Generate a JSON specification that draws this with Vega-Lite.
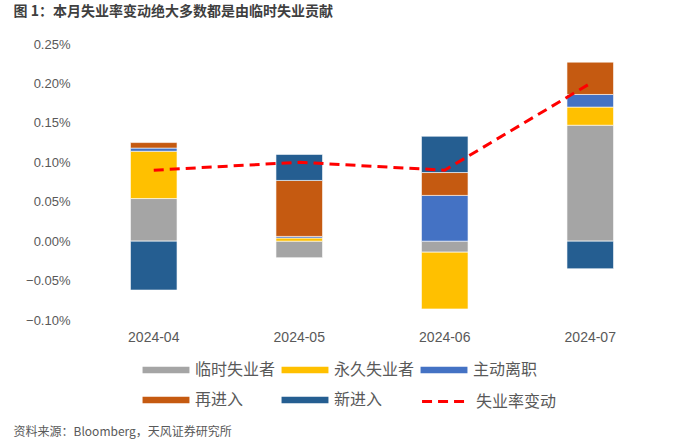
{
  "$schema": "https://vega.github.io/schema/vega-lite/v6.json",
  "padding": {"left": 13, "top": 5, "right": 5, "bottom": 5},
  "background": "white",
  "title": {"text": "资料来源：Bloomberg，天风证券研究所", "orient": "bottom", "anchor": "start", "font": "Noto Sans CJK SC", "fontSize": 12, "fontWeight": "normal", "color": "#595959", "offset": 17},
  "config": {"view": {"stroke": null}, "concat": {"spacing": 0}, "axisY": {"labelOverlap": false}},
  "data": {"values": [
    {"month": "2024-04", "series": "临时失业者", "k": 1, "value": 0.054},
    {"month": "2024-04", "series": "永久失业者", "k": 2, "value": 0.060},
    {"month": "2024-04", "series": "主动离职", "k": 3, "value": 0.004},
    {"month": "2024-04", "series": "再进入", "k": 4, "value": 0.007},
    {"month": "2024-04", "series": "新进入", "k": 5, "value": -0.062},
    {"month": "2024-05", "series": "临时失业者", "k": 1, "value": -0.021},
    {"month": "2024-05", "series": "永久失业者", "k": 2, "value": 0.004},
    {"month": "2024-05", "series": "主动离职", "k": 3, "value": 0.002},
    {"month": "2024-05", "series": "再进入", "k": 4, "value": 0.071},
    {"month": "2024-05", "series": "新进入", "k": 5, "value": 0.033},
    {"month": "2024-06", "series": "临时失业者", "k": 1, "value": -0.014},
    {"month": "2024-06", "series": "永久失业者", "k": 2, "value": -0.072},
    {"month": "2024-06", "series": "主动离职", "k": 3, "value": 0.058},
    {"month": "2024-06", "series": "再进入", "k": 4, "value": 0.029},
    {"month": "2024-06", "series": "新进入", "k": 5, "value": 0.046},
    {"month": "2024-07", "series": "临时失业者", "k": 1, "value": 0.147},
    {"month": "2024-07", "series": "永久失业者", "k": 2, "value": 0.023},
    {"month": "2024-07", "series": "主动离职", "k": 3, "value": 0.016},
    {"month": "2024-07", "series": "再进入", "k": 4, "value": 0.041},
    {"month": "2024-07", "series": "新进入", "k": 5, "value": -0.035},
    {"month": "2024-04", "series": "失业率变动", "k": 6, "value": 0.09},
    {"month": "2024-05", "series": "失业率变动", "k": 6, "value": 0.10},
    {"month": "2024-06", "series": "失业率变动", "k": 6, "value": 0.09},
    {"month": "2024-07", "series": "失业率变动", "k": 6, "value": 0.20}
  ]},
  "vconcat": [
    {
      "width": 582,
      "height": 276,
      "title": {"text": "图 1：本月失业率变动绝大多数都是由临时失业贡献", "anchor": "start", "frame": "bounds", "dx": -12, "offset": 19, "font": "Noto Sans CJK SC", "fontSize": 14, "fontWeight": "bold", "color": "#3F3F3F"},
      "encoding": {
        "x": {"field": "month", "type": "nominal", "sort": null,
          "scale": {"paddingInner": 0.68, "paddingOuter": 0.34},
          "axis": {"title": null, "labelAngle": 0, "ticks": false, "domain": false, "labelPadding": 10, "labelFont": "Liberation Sans", "labelFontSize": 14, "labelColor": "#595959"}}
      },
      "layer": [
        {
          "transform": [{"filter": "datum.series !== '失业率变动'"}],
          "mark": {"type": "bar", "stroke": "white", "strokeWidth": 0.6},
          "encoding": {
            "y": {"field": "value", "type": "quantitative", "stack": "zero",
              "scale": {"domain": [-0.1, 0.25], "nice": false, "zero": false},
              "axis": {"title": null, "values": [-0.1, -0.05, 0, 0.05, 0.1, 0.15, 0.2, 0.25], "tickCount": 20, "labelOverlap": false, "labelExpr": "format(datum.value, '.2f') + '%'", "grid": false, "ticks": false, "domain": false, "labelPadding": 11, "labelFont": "Liberation Sans", "labelFontSize": 13, "labelColor": "#595959"}},
            "order": {"field": "k", "type": "quantitative", "sort": "ascending"},
            "color": {"field": "series", "type": "nominal",
              "scale": {"domain": ["临时失业者", "永久失业者", "主动离职", "再进入", "新进入"], "range": ["#A5A5A5", "#FFC000", "#4472C4", "#C55A11", "#255E91"]},
              "legend": {"orient": "none", "direction": "horizontal", "legendX": 73, "legendY": 314, "columns": 3, "title": null,
                "symbolType": "M-2,-0.27L2,-0.27L2,0.27L-2,0.27Z", "symbolSize": 550, "symbolStrokeWidth": 0,
                "labelFont": "Noto Sans CJK SC", "labelFontSize": 16, "labelColor": "#595959", "labelOffset": 17,
                "rowPadding": 10, "columnPadding": 5}}
          }
        },
        {
          "mark": {"type": "rule", "color": "#D9D9D9", "strokeWidth": 1.5},
          "encoding": {"y": {"datum": 0}}
        },
        {
          "transform": [{"filter": "datum.series === '失业率变动'"}],
          "mark": {"type": "line", "strokeWidth": 3, "color": "#FF0000"},
          "encoding": {
            "y": {"field": "value", "type": "quantitative",
              "axis": {"title": null, "values": [-0.1, -0.05, 0, 0.05, 0.1, 0.15, 0.2, 0.25], "tickCount": 20, "labelOverlap": false, "labelExpr": "format(datum.value, '.2f') + '%'", "grid": false, "ticks": false, "domain": false, "labelPadding": 11, "labelFont": "Liberation Sans", "labelFontSize": 13, "labelColor": "#595959"}},
            "strokeDash": {"datum": "失业率变动", "type": "nominal",
              "scale": {"domain": ["失业率变动"], "range": [[10, 6]]},
              "legend": {"orient": "none", "legendX": 351, "legendY": 344, "title": null,
                "symbolType": "M-2,0L2,0", "symbolSize": 550, "symbolStrokeWidth": 3, "symbolStrokeColor": "#FF0000",
                "labelFont": "Noto Sans CJK SC", "labelFontSize": 16, "labelColor": "#595959", "labelOffset": 17}}
          }
        }
      ]
    }
  ]
}
